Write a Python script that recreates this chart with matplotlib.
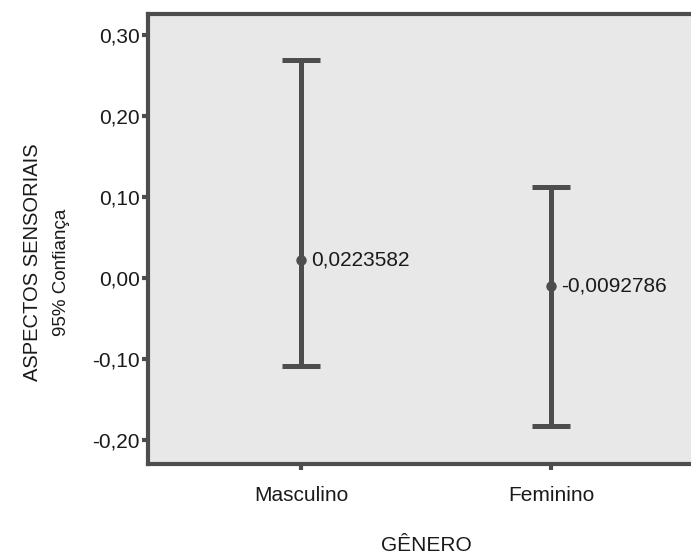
import matplotlib
matplotlib.use("Agg")
import matplotlib.pyplot as plt
from matplotlib.ticker import FuncFormatter, FixedLocator

# Group means and 95% confidence limits
categories = ["Masculino", "Feminino"]
means = [0.0223582, -0.0092786]
ci_lower = [-0.108, -0.183]
ci_upper = [0.269, 0.112]
mean_labels = ["0,0223582", "-0,0092786"]
y_ticks = [-0.20, -0.10, 0.00, 0.10, 0.20, 0.30]

plt.rcParams["font.family"] = ["Liberation Sans Narrow", "Liberation Sans", "DejaVu Sans"]

fig = plt.figure(figsize=(6.91, 5.55), dpi=100)
ax = fig.add_axes([148 / 691, 1 - 464 / 555, (704 - 148) / 691, (464 - 14) / 555])
ax.set_facecolor("#e8e8e8")

col = "#4d4d4d"
txt = "#1a1a1a"
x = list(range(1, len(categories) + 1))
for xi, m, lo, hi, lab in zip(x, means, ci_lower, ci_upper, mean_labels):
    ax.errorbar([xi], [m], yerr=[[m - lo], [hi - m]], fmt="o", color=col,
                ecolor=col, elinewidth=3.6, capsize=14, capthick=3.6,
                markersize=6.5, zorder=3)
    ax.annotate(lab, (xi, m), xytext=(7, 0), textcoords="offset points",
                ha="left", va="center", fontsize=15, color=txt)

ax.set_xlim(0.388, 2.612)
ax.set_ylim(-0.2296, 0.326)
ax.xaxis.set_major_locator(FixedLocator(x))
ax.set_xticklabels(categories)
ax.yaxis.set_major_locator(FixedLocator(y_ticks))
ax.yaxis.set_major_formatter(FuncFormatter(lambda v, p: f"{v:.2f}".replace(".", ",").replace("-0,00", "0,00")))

for side in ["left", "bottom", "top"]:
    ax.spines[side].set_linewidth(3.0)
    ax.spines[side].set_color(col)
ax.spines["right"].set_visible(False)

ax.tick_params(axis="both", direction="out", length=4, width=3, color=col,
               labelsize=15, labelcolor=txt, pad=2)
ax.tick_params(axis="x", pad=12)

ax.set_xlabel("GÊNERO", fontsize=15, color=txt, labelpad=22)

fig.text(33 / 691, 1 - 262 / 555, "ASPECTOS SENSORIAIS", rotation=90,
         ha="center", va="center", fontsize=14.5, color=txt)
fig.text(62 / 691, 1 - 272 / 555, "95% Confiança", rotation=90,
         ha="center", va="center", fontsize=13.5, color=txt)

fig.savefig("out.png", dpi=100)
